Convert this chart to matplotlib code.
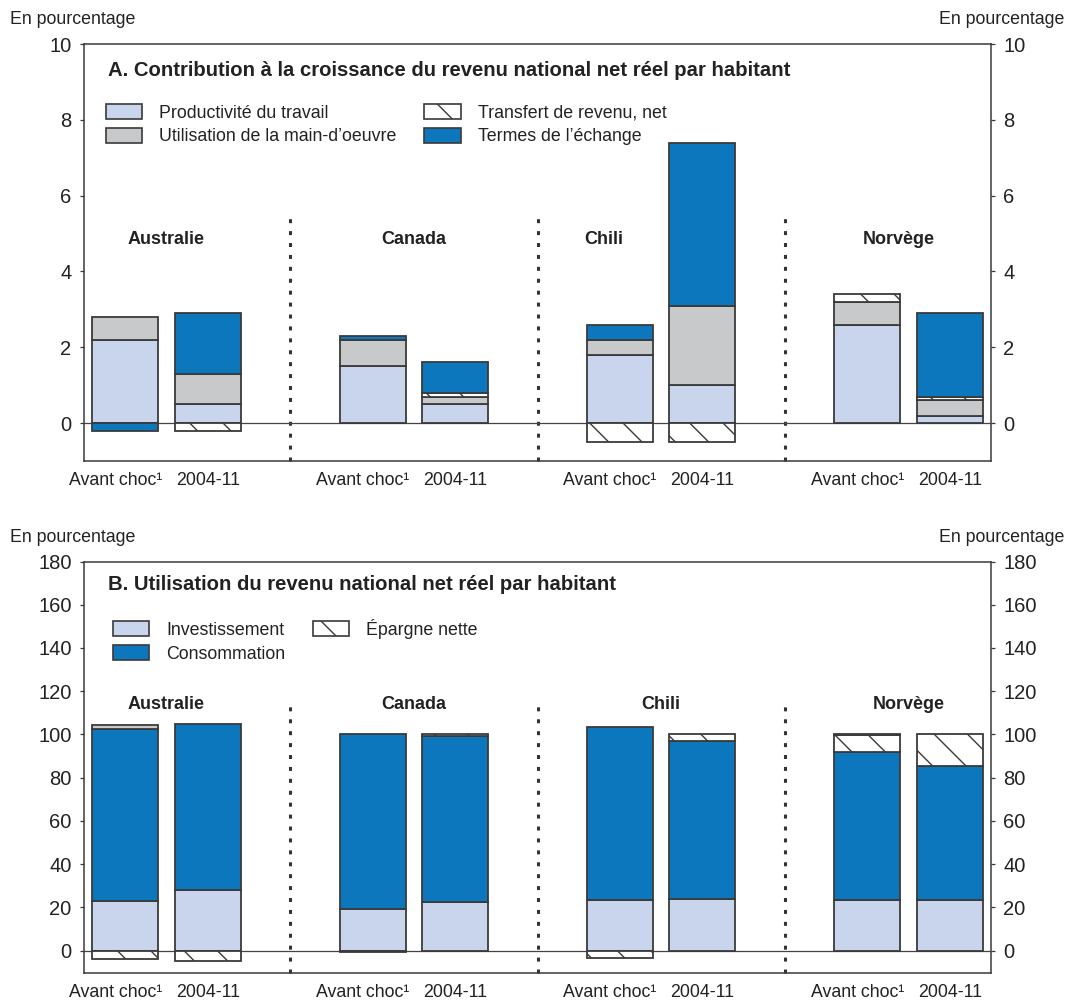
import matplotlib
matplotlib.use("Agg")
import matplotlib.pyplot as plt
import matplotlib.transforms as mtransforms
from matplotlib.patches import Patch
import numpy as np

plt.rcParams['font.family'] = ['Liberation Sans', 'DejaVu Sans']
plt.rcParams['hatch.linewidth'] = 1.0

# ---- Data ---------------------------------------------------------------
countries = ["Australie", "Canada", "Chili", "Norvège"]
periods = ["Avant choc¹", "2004-11"]

# Panel A: contributions to growth of real net national income per capita (%)
productivite = [2.2, 0.5, 1.5, 0.5, 1.8, 1.0, 2.6, 0.2]
utilisation = [0.6, 0.8, 0.7, 0.2, 0.4, 2.1, 0.6, 0.4]
transfert = [0.0, -0.2, 0.0, 0.1, -0.5, -0.5, 0.2, 0.1]
termes = [-0.2, 1.6, 0.1, 0.8, 0.4, 4.3, 0.0, 2.2]

# Panel B: uses of real net national income per capita (%)
investissement = [22.8, 28.1, 19.1, 22.5, 23.3, 24.0, 23.3, 23.3]
consommation = [79.9, 76.7, 81.3, 76.7, 80.0, 73.0, 68.7, 62.1]
epargne = [-3.8, -4.6, -0.5, 0.9, -3.2, 3.2, 7.8, 14.7]
autre = [1.5, 0.0, 0.0, 0.0, 0.0, 0.0, 0.3, 0.0]

# ---- Style --------------------------------------------------------------
LAV = "#c9d5ec"
GRAY = "#c8c9cb"
BLUE = "#0c77bc"
EDGE = "#3a3a3a"
TXT = "#222222"

TICK_FS = 14.5
LABEL_FS = 12.8
TITLE_FS = 14.6
COUNTRY_FS = 13

W, H = 1066, 1000
fig = plt.figure(figsize=(W / 100, H / 100), dpi=100)


def fx(px):
    return px / W


def fy(py):
    return 1 - py / H


# bar positions: two bars per country, groups three units apart
xpos = np.array([3 * g + b for g in range(len(countries)) for b in range(2)], dtype=float)
BAR_W = 0.8


def stacked(ax, series):
    pos_base = np.zeros(len(xpos))
    neg_base = np.zeros(len(xpos))
    for vals, color, hatch in series:
        v = np.asarray(vals, dtype=float)
        base = np.where(v >= 0, pos_base, neg_base)
        mask = v != 0
        ax.bar(xpos[mask], v[mask], BAR_W, bottom=base[mask], color=color,
               edgecolor=EDGE, linewidth=1.3, hatch=hatch, zorder=3)
        pos_base = pos_base + np.where(v > 0, v, 0)
        neg_base = neg_base + np.where(v < 0, v, 0)


def frame(ax, ylim, yticks, sep_top, labels_x, label_y):
    ax.set_xlim(-0.5, 10.5)
    ax.set_ylim(*ylim)
    ax.set_yticks(yticks)
    ax.tick_params(axis='y', which='both', direction='out', length=3, width=0.9,
                   color=EDGE, labelsize=TICK_FS, labelcolor=TXT, pad=6,
                   left=True, right=True, labelleft=True, labelright=True)
    ax.set_xticks(xpos)
    ax.set_xticklabels(periods * len(countries))
    ax.tick_params(axis='x', length=0, labelsize=LABEL_FS, labelcolor=TXT, pad=8)
    shift = mtransforms.ScaledTranslation(-10 / 100, 0, fig.dpi_scale_trans)
    for i, lab in enumerate(ax.get_xticklabels()):
        if i % 2 == 0:
            lab.set_transform(lab.get_transform() + shift)
    for s in ax.spines.values():
        s.set_color(EDGE)
        s.set_linewidth(1.1)
    ax.axhline(0, color="#444444", lw=0.9, zorder=2)
    for g in range(1, len(countries)):
        ax.plot([3 * g - 1, 3 * g - 1], [ylim[0], sep_top], color="#333333",
                lw=2.2, linestyle=(0, (1.3, 2.6)), zorder=1, clip_on=False)
    for name, lx in zip(countries, labels_x):
        ax.text(lx, label_y, name, ha='center', va='center', fontsize=COUNTRY_FS,
                fontweight='bold', color=TXT)


def legend(ax, handles, x_px, top_px, colspace):
    leg = ax.legend(handles=handles, ncol=2, loc='upper left', frameon=False,
                    bbox_to_anchor=(fx(x_px), fy(top_px)), bbox_transform=fig.transFigure,
                    borderpad=0, borderaxespad=0, fontsize=LABEL_FS, handlelength=2.05,
                    handleheight=0.9, handletextpad=0.95, columnspacing=colspace,
                    labelspacing=0.36)
    for t in leg.get_texts():
        t.set_color(TXT)
    return leg


# ---- Panel A ------------------------------------------------------------
axA = fig.add_axes([fx(84), fy(461), fx(991 - 84), (461 - 44) / H])
stacked(axA, [(productivite, LAV, None), (utilisation, GRAY, None),
              (transfert, "white", "\\"), (termes, BLUE, None)])
frame(axA, (-1, 10), [0, 2, 4, 6, 8, 10], 5.55, [0.5, 3.5, 5.8, 9.38], 4.85)
axA.text(fx(108), fy(71), "A. Contribution à la croissance du revenu national net réel par habitant",
         transform=fig.transFigure, fontsize=TITLE_FS, fontweight='bold', color=TXT, va='center')
hA = [Patch(facecolor=LAV, edgecolor=EDGE, lw=1.2, label="Productivité du travail"),
      Patch(facecolor=GRAY, edgecolor=EDGE, lw=1.2, label="Utilisation de la main-d’oeuvre"),
      Patch(facecolor="white", edgecolor=EDGE, lw=1.2, hatch="\\", label="Transfert de revenu, net"),
      Patch(facecolor=BLUE, edgecolor=EDGE, lw=1.2, label="Termes de l’échange")]
legend(axA, hA, 106, 104, 1.55)

# ---- Panel B ------------------------------------------------------------
axB = fig.add_axes([fx(84), fy(972.7), fx(991 - 84), (972.7 - 561.5) / H])
stacked(axB, [(investissement, LAV, None), (consommation, BLUE, None),
              (epargne, "white", "\\"), (autre, GRAY, None)])
frame(axB, (-10.2, 180), list(range(0, 181, 20)), 113.5,
      [0.5, 3.5, 6.5, 9.5], 114)
axB.text(fx(108), fy(585), "B. Utilisation du revenu national net réel par habitant",
         transform=fig.transFigure, fontsize=TITLE_FS, fontweight='bold', color=TXT, va='center')
hB = [Patch(facecolor=LAV, edgecolor=EDGE, lw=1.2, label="Investissement"),
      Patch(facecolor=BLUE, edgecolor=EDGE, lw=1.2, label="Consommation"),
      Patch(facecolor="white", edgecolor=EDGE, lw=1.2, hatch="\\", label="Épargne nette")]
legend(axB, hB, 113, 619, 1.55)

# ---- Unit captions --------------------------------------------------------
for py in (20, 537):
    fig.text(fx(10), fy(py), "En pourcentage", fontsize=LABEL_FS, color=TXT, va='center', ha='left')
    fig.text(fx(1064), fy(py), "En pourcentage", fontsize=LABEL_FS, color=TXT, va='center', ha='right')

fig.savefig("out.png", dpi=100, facecolor="white")
